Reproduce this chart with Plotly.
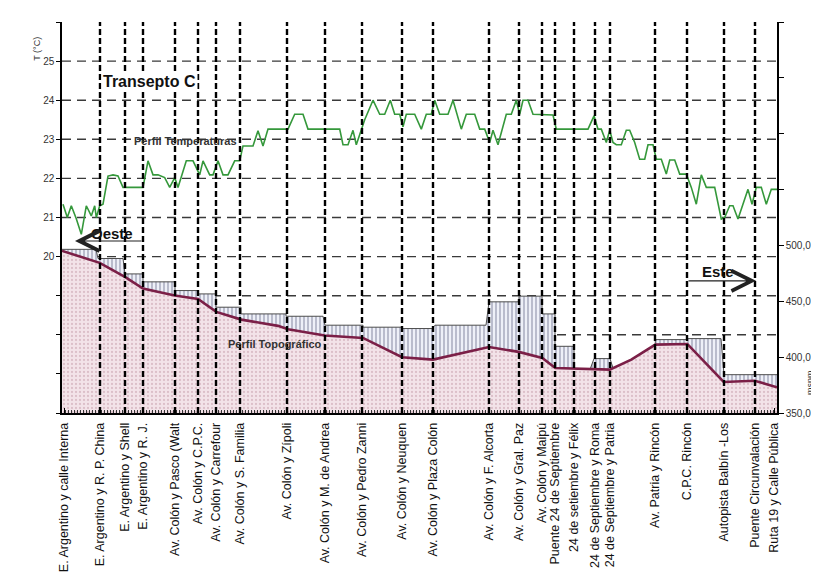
import plotly.graph_objects as go

# ---------------- data (distance units along the transect) ----------------
stations_d = [2, 38, 63, 81, 113, 136, 154, 178, 225, 263, 300, 340, 371,
              427, 457, 480, 493, 512, 533, 548, 593, 625, 662, 693, 712]
station_labels = [
    "E. Argentino y calle Interna", "E. Argentino y R. P. China",
    "E. Argentino y Shell", "E. Argentino y R. J.",
    "Av. Colón y Pasco (Walt", "Av. Colón y C.P.C.", "Av. Colón y Carrefour",
    "Av. Colón y S. Familia", "Av. Colón y Zípoli", "Av. Colón y M. de Andrea",
    "Av. Colón y Pedro Zanni", "Av. Colón y Neuquen", "Av. Colón y Plaza Colón",
    "Av. Colón y F. Alcorta", "Av. Colón y Gral. Paz", "Av. Colón y Maipú",
    "Puente 24 de Septiembre", "24 de setiembre y Félix",
    "24 de Septiembre y Roma", "24 de Septiembre y Patria",
    "Av. Patria y Rincón", "C.P.C. Rincón", "Autopista Balbín -Los",
    "Puente Circunvalación", "Ruta 19 y Calle Pública",
]

dist_t = [1, 5.3, 9.3, 14.3, 19.3, 24.3, 29.3, 32.7, 34.3, 37.7,
          41, 46, 51, 56, 61, 81, 86, 91, 96, 102.7,
          107.7, 112.7, 116, 124.3, 131, 137.7, 141, 147.7, 151, 156,
          161, 166, 172.7, 177.7, 181, 191, 196, 201, 206, 226,
          232.7, 241, 246, 277.7, 281, 286, 291, 294.3, 302.7, 311,
          317.7, 322.7, 328.3, 332.7, 337.7, 341, 344.3, 352.7, 359.3, 364.3,
          369.3, 372.7, 377.7, 386, 391, 399.3, 404.3, 412.7, 417.7, 422.7,
          427.7, 431, 436, 444.3, 449.3, 454.3, 457.7, 461, 466, 471,
          491, 494.3, 526, 532, 536, 539.3, 544.3, 547.7, 551, 554.3,
          559.3, 564.3, 567.7, 572.7, 577.7, 582.7, 586, 591, 594.3, 599.3,
          604.3, 607.7, 612.7, 617.7, 624.3, 629.3, 634.3, 639.3, 644.3, 652.7,
          659.3, 662.7, 667.7, 671, 676, 686, 690, 694.3, 699.3, 704.3,
          709.3, 715]
temp_c = [21.34, 21.0, 21.3, 20.97, 20.57, 21.3, 21.04, 21.3, 21.0, 21.3,
          21.34, 22.06, 22.09, 22.06, 21.77, 21.77, 22.45, 22.09, 22.09, 22.02,
          21.77, 22.02, 21.77, 22.45, 22.45, 22.09, 22.45, 22.09, 22.09, 22.45,
          22.09, 22.09, 22.45, 22.45, 22.83, 22.83, 23.22, 22.83, 23.26, 23.26,
          23.64, 23.64, 23.26, 23.26, 22.86, 22.86, 23.23, 22.86, 23.5, 24.0,
          23.64, 23.64, 24.0, 23.64, 23.64, 23.32, 23.64, 23.64, 23.26, 23.64,
          23.64, 24.0, 23.64, 23.64, 24.0, 23.26, 23.64, 23.64, 23.26, 23.26,
          22.92, 23.23, 22.86, 23.64, 23.64, 24.0, 23.64, 24.0, 24.0, 23.64,
          23.62, 23.26, 23.26, 23.6, 23.26, 23.26, 22.92, 23.23, 22.92, 22.86,
          22.86, 23.23, 23.23, 22.92, 22.49, 22.49, 22.86, 22.86, 22.49, 22.49,
          22.11, 22.47, 22.47, 22.11, 22.11, 21.77, 21.34, 22.09, 21.77, 21.77,
          20.96, 21.0, 21.3, 21.3, 20.96, 21.72, 21.34, 21.77, 21.77, 21.34,
          21.72, 21.72]

dist_topo = [0, 1, 37.7, 63.3, 81, 112.7, 136, 154.3, 179.3, 216,
             226, 262.7, 301, 340, 371, 427, 456.7, 480.3, 493.3, 512,
             532, 547.7, 569.3, 593.3, 625.3, 661.7, 692.7, 715]
elev_topo = [495.5, 494.9, 484.4, 471.6, 461.4, 455.1, 452.1, 440.5, 433.6, 428.0,
             425.0, 419.3, 417.2, 399.9, 397.8, 409.1, 404.7, 399.3, 390.3, 389.7,
             388.8, 388.8, 397.8, 411.2, 411.8, 377.8, 378.9, 373.0]

dist_up = [0, 34, 36, 61, 63, 81, 81, 113, 113, 136,
           136, 154, 154, 179, 179, 224, 224, 261, 263, 301,
           301, 340, 340, 370, 373, 424, 427, 457, 457, 480,
           480, 493, 493, 512, 512, 528, 532, 548, 551, 569.3,
           593.3, 593.3, 625, 625, 659, 662, 715]
elev_up = [496.5, 496.5, 488.3, 488.3, 474.5, 474.5, 467.4, 467.4, 459.6, 459.6,
           456.6, 456.6, 444.7, 444.7, 438.7, 438.7, 436.6, 436.6, 428.6, 428.6,
           426.8, 426.8, 425.6, 425.6, 428.6, 428.6, 449.5, 449.5, 454.6, 454.6,
           438.7, 438.7, 409.7, 409.7, 389.7, 389.0, 398.7, 398.7, 390.2, 397.8,
           411.2, 415.7, 415.7, 416.6, 416.6, 384.3, 384.3]

temp_ticks = [16, 17, 18, 19, 20, 21, 22, 23, 24, 25, 26]
temp_ticktext = ["", "", "", "", "20", "21", "22", "23", "24", "25", ""]
temp_grid_levels = [18, 19, 20, 21, 22, 23, 24, 25]
elev_ticks = [350, 400, 450, 500, 550, 600, 650, 700]
elev_ticktext = ["350,0", "400,0", "450,0", "500,0", "", "", "", ""]

# ---------------- figure ----------------
fig = go.Figure()

fig.add_trace(go.Scatter(
    x=dist_t, y=temp_c, mode="lines", yaxis="y",
    line=dict(color="#35983b", width=1.6), hoverinfo="skip", showlegend=False))

fig.add_trace(go.Scatter(
    x=dist_topo, y=elev_topo, mode="lines", yaxis="y2",
    line=dict(color="rgba(0,0,0,0)", width=0), fill="tozeroy",
    fillcolor="#f1dfe5",
    fillpattern=dict(shape=".", fgcolor="#c49aa8", bgcolor="#f3e3e9",
                     size=4, solidity=0.25),
    hoverinfo="skip", showlegend=False))

fig.add_trace(go.Scatter(
    x=dist_up, y=elev_up, mode="lines", yaxis="y2",
    line=dict(color="#4d4d4d", width=1), fill="tonexty",
    fillcolor="#eceef8",
    fillpattern=dict(shape="|", fgcolor="#3d4266", bgcolor="#eef0f8",
                     size=4, solidity=0.3),
    hoverinfo="skip", showlegend=False))

fig.add_trace(go.Scatter(
    x=dist_topo, y=elev_topo, mode="lines", yaxis="y2",
    line=dict(color="#7b1f47", width=2.6), hoverinfo="skip", showlegend=False))

shapes = []
for v in temp_grid_levels:
    shapes.append(dict(type="line", xref="paper", x0=0, x1=1, yref="y", y0=v, y1=v,
                       line=dict(color="#3a3a3a", width=1.4, dash="9px,6px"),
                       layer="below"))
for d in stations_d[1:-1]:
    shapes.append(dict(type="line", xref="x", x0=d, x1=d, yref="paper", y0=0, y1=1,
                       line=dict(color="black", width=2.4, dash="6px,3px"),
                       layer="above"))

annotations = [
    dict(text="<b>Transepto C</b>", x=87, y=24.49, xref="x", yref="y",
         showarrow=False, font=dict(size=16, color="#111"), bgcolor="white"),
    dict(text="<b>Perfil Temperaturas</b>", x=123, y=22.96, xref="x", yref="y",
         showarrow=False, font=dict(size=11, color="#333")),
    dict(text="<b>Perfil Topográfico</b>", x=213, y=411.8, xref="x", yref="y2",
         showarrow=False, font=dict(size=11, color="#333")),
    dict(text="<b>Oeste</b>", x=50, y=20.6, xref="x", yref="y",
         showarrow=False, font=dict(size=15, color="#111")),
    dict(text="", x=13, y=20.4, xref="x", yref="y", ax=68, ay=0,
         showarrow=True, arrowhead=5, arrowsize=3.6, arrowwidth=1.1,
         arrowcolor="#222"),
    dict(text="<b>Este</b>", x=656, y=19.63, xref="x", yref="y",
         showarrow=False, font=dict(size=15, color="#111")),
    dict(text="", x=694, y=19.38, xref="x", yref="y", ax=-69, ay=0,
         showarrow=True, arrowhead=5, arrowsize=3.6, arrowwidth=1.1,
         arrowcolor="#222"),
    dict(text="T (°C)", x=-0.045, y=0.967, xref="paper", yref="paper",
         textangle=-90, showarrow=False, font=dict(size=9, color="#333")),
    dict(text="msnm", x=1.056, y=0.04, xref="paper", yref="paper",
         textangle=-90, showarrow=False, font=dict(size=9, color="#333")),
]

fig.update_layout(
    width=819, height=576,
    margin=dict(l=54, r=50, t=14, b=171),
    paper_bgcolor="white", plot_bgcolor="white", showlegend=False,
    font=dict(family="Liberation Sans, Arial, sans-serif", color="#222"),
    shapes=shapes, annotations=annotations,
    xaxis=dict(range=[0, 715], showgrid=False, zeroline=False,
               showline=True, linecolor="black", linewidth=1.5,
               tickmode="array", tickvals=stations_d, ticktext=station_labels,
               tickangle=-90, ticks="inside", ticklen=5, tickcolor="black",
               tickfont=dict(size=12.5, color="#111"), ticklabelstandoff=3,
               minor=dict(ticks="inside", ticklen=3, dtick=3, tick0=0,
                          tickcolor="#333", showgrid=False),
               automargin=False),
    yaxis=dict(range=[16, 26], tickmode="array", tickvals=temp_ticks,
               ticktext=temp_ticktext, ticks="outside", ticklen=4,
               tickcolor="black", showline=True, linecolor="black",
               linewidth=1.5, showgrid=False, zeroline=False,
               tickfont=dict(size=10, color="#333"), automargin=False),
    yaxis2=dict(range=[350, 700], overlaying="y", side="right", anchor="x",
                tickmode="array", tickvals=elev_ticks, ticktext=elev_ticktext,
                ticks="outside", ticklen=5, tickcolor="black",
                showline=True, linecolor="black", linewidth=1.5,
                showgrid=False, zeroline=False,
                tickfont=dict(size=10, color="#333"), automargin=False),
)

fig.write_html("out.html")
